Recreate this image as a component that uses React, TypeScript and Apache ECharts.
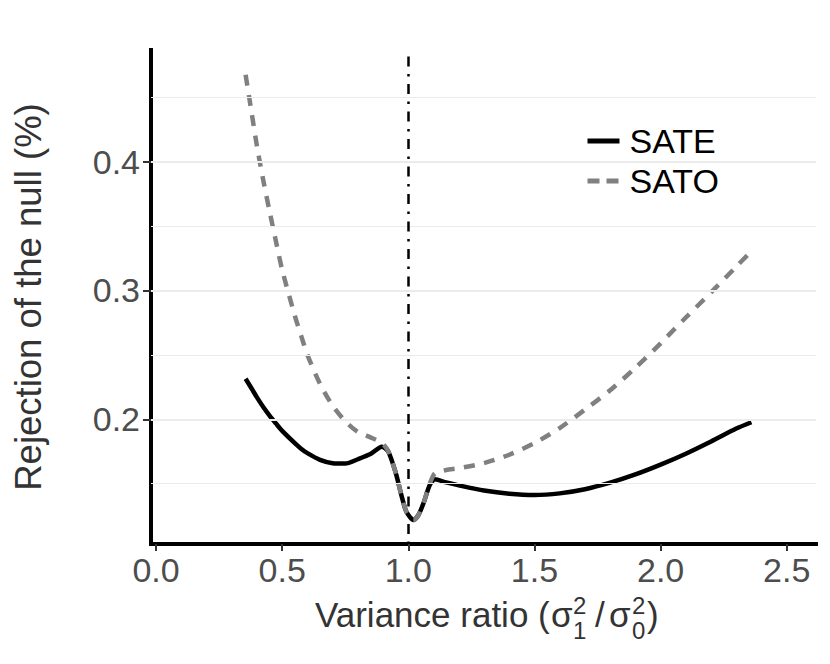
import React, { useEffect, useRef } from "react";
import * as echarts from "echarts";

// Variance ratio (x) sampled along the curves
const ratio = [
  0.355, 0.38, 0.4, 0.425, 0.45, 0.475, 0.5, 0.55, 0.575, 0.6,
  0.65, 0.7, 0.75, 0.8, 0.85, 0.895, 0.92, 0.95, 0.97, 0.99,
  1.005, 1.02, 1.04, 1.06, 1.085, 1.105, 1.15, 1.2, 1.3, 1.4,
  1.5, 1.6, 1.7, 1.8, 1.9, 2.0, 2.1, 2.2, 2.3, 2.36,
];
const sate = [
  0.2315, 0.2235, 0.217, 0.2095, 0.2028, 0.1968, 0.191, 0.1815, 0.1772, 0.1737,
  0.1685, 0.1659, 0.1656, 0.169, 0.173, 0.1787, 0.1752, 0.1585, 0.143, 0.1292,
  0.1245, 0.1218, 0.1257, 0.1348, 0.149, 0.1534, 0.151, 0.1487, 0.1447, 0.1422,
  0.1412, 0.1425, 0.1457, 0.1508, 0.1572, 0.1648, 0.1733, 0.1828, 0.1928, 0.1977,
];
const sato = [
  0.4675, 0.4366, 0.412, 0.3856, 0.3615, 0.3384, 0.316, 0.2805, 0.265, 0.25,
  0.2275, 0.2105, 0.1985, 0.1902, 0.186, 0.1818, 0.1755, 0.1585, 0.143, 0.1292,
  0.1245, 0.1218, 0.1257, 0.1348, 0.15, 0.158, 0.1606, 0.162, 0.166, 0.1725,
  0.1815, 0.1932, 0.2075, 0.2225, 0.24, 0.259, 0.279, 0.2985, 0.3185, 0.3306,
];
const xTickValues = [0, 0.5, 1, 1.5, 2, 2.5];
const yTickValues = [0.2, 0.3, 0.4];
const yMinorValues = [0.15, 0.25, 0.35, 0.45];
const nullRatio = 1;
const seriesNames = ["SATE", "SATO"];
const yTitle = "Rejection of the null (%)";

export default function App() {
  const ref = useRef<HTMLDivElement>(null);

  useEffect(() => {
    document.body.style.margin = "0";
    const chart = echarts.init(ref.current!, undefined, { renderer: "svg" });
    const family = "Liberation Sans";

    const main = 35;
    const small = 24;
    const titleColor = "#333333";
    const yMain = 614.9;
    const ySup = 605;
    const ySub = 630;

    const txt = (text: string, x: number, y: number, size: number) => ({
      type: "text",
      x,
      y,
      silent: true,
      style: {
        text,
        font: `${size}px "${family}"`,
        fill: titleColor,
        align: "left",
        verticalAlign: "middle",
        lineHeight: size === small ? 18 : 36,
      },
    });

    const gridLineData = [
      ...yMinorValues.map((v) => ({ yAxis: v, lineStyle: { width: 1.2, color: "#EBEBEB", type: "solid" } })),
      ...yTickValues.map((v) => ({ yAxis: v, lineStyle: { width: 2.2, color: "#EBEBEB", type: "solid" } })),
    ];

    const option: any = {
      animation: false,
      backgroundColor: "#ffffff",
      grid: { left: 151, right: 14, top: 50, bottom: 120, containLabel: false },
      xAxis: {
        type: "value",
        min: -0.02,
        max: 2.616,
        axisLine: { show: true, onZero: false, lineStyle: { color: "#000", width: 4, cap: "square" } },
        axisTick: { show: true, customValues: xTickValues, length: 7, lineStyle: { color: "#333", width: 2 } },
        axisLabel: {
          customValues: xTickValues,
          formatter: (v: number) => v.toFixed(1),
          fontSize: 34,
          fontFamily: family,
          color: "#4D4D4D",
          margin: 9,
        },
        splitLine: { show: false },
      },
      yAxis: {
        type: "value",
        min: 0.1032,
        max: 0.4867,
        name: yTitle,
        nameLocation: "middle",
        nameGap: 104,
        nameTextStyle: { fontSize: 36.5, fontFamily: family, color: titleColor },
        axisLine: { show: true, onZero: false, lineStyle: { color: "#000", width: 4, cap: "square" } },
        axisTick: { show: true, customValues: yTickValues, length: 8, lineStyle: { color: "#333", width: 2 } },
        axisLabel: {
          customValues: yTickValues,
          formatter: (v: number) => v.toFixed(1),
          fontSize: 34,
          fontFamily: family,
          color: "#4D4D4D",
          margin: 11,
        },
        splitLine: { show: false },
      },
      legend: {
        data: [
          {
            name: seriesNames[0],
            itemStyle: { opacity: 0 },
            lineStyle: { color: "#000000", width: 5, type: "solid" },
          },
          {
            name: seriesNames[1],
            itemStyle: { opacity: 0 },
            lineStyle: { color: "#808080", width: 5, type: [12, 7] },
          },
        ],
        orient: "vertical",
        left: 568,
        top: 93,
        padding: [28, 17, 18, 17],
        backgroundColor: "#ffffff",
        itemWidth: 32,
        itemHeight: 20,
        itemGap: 0,
        itemStyle: { opacity: 0 },
        textStyle: { fontSize: 34, fontFamily: family, color: "#000", lineHeight: 40, padding: [0, 0, 0, 5] },
      },
      graphic: [
        txt("Variance ratio (", 315, yMain, main),
        txt("σ", 551, yMain, main),
        txt("2", 573, ySup, small),
        txt("1", 573, ySub, small),
        txt("/", 595, yMain, main),
        txt("σ", 609, yMain, main),
        txt("2", 632, ySup, small),
        txt("0", 632, ySub, small),
        txt(")", 647, yMain, main),
      ],
      series: [
        {
          name: "__grid",
          type: "line",
          data: [],
          z: 1,
          silent: true,
          markLine: {
            silent: true,
            symbol: ["none", "none"],
            label: { show: false },
            animation: false,
            data: [
              ...gridLineData,
              { xAxis: nullRatio, lineStyle: { color: "#000", width: 2.5, type: [2.5, 7.5, 10, 7.5] } },
            ],
          },
        },
        {
          name: seriesNames[0],
          type: "line",
          data: ratio.map((x, i) => [x, sate[i]]),
          symbol: "none",
          showSymbol: false,
          smooth: 0.25,
          z: 3,
          lineStyle: { color: "#000000", width: 4.5, type: "solid", join: "round" },
          itemStyle: { color: "#000000" },
        },
        {
          name: seriesNames[1],
          type: "line",
          data: ratio.map((x, i) => [x, sato[i]]),
          symbol: "none",
          showSymbol: false,
          smooth: 0.25,
          z: 4,
          lineStyle: { color: "#808080", width: 4.5, type: [11, 9.5], join: "round" },
          itemStyle: { color: "#808080" },
        },
      ],
    };

    chart.setOption(option);
    return () => chart.dispose();
  }, []);

  return <div ref={ref} style={{ position: "absolute", left: 0, top: 0, width: 830, height: 664 }} />;
}
